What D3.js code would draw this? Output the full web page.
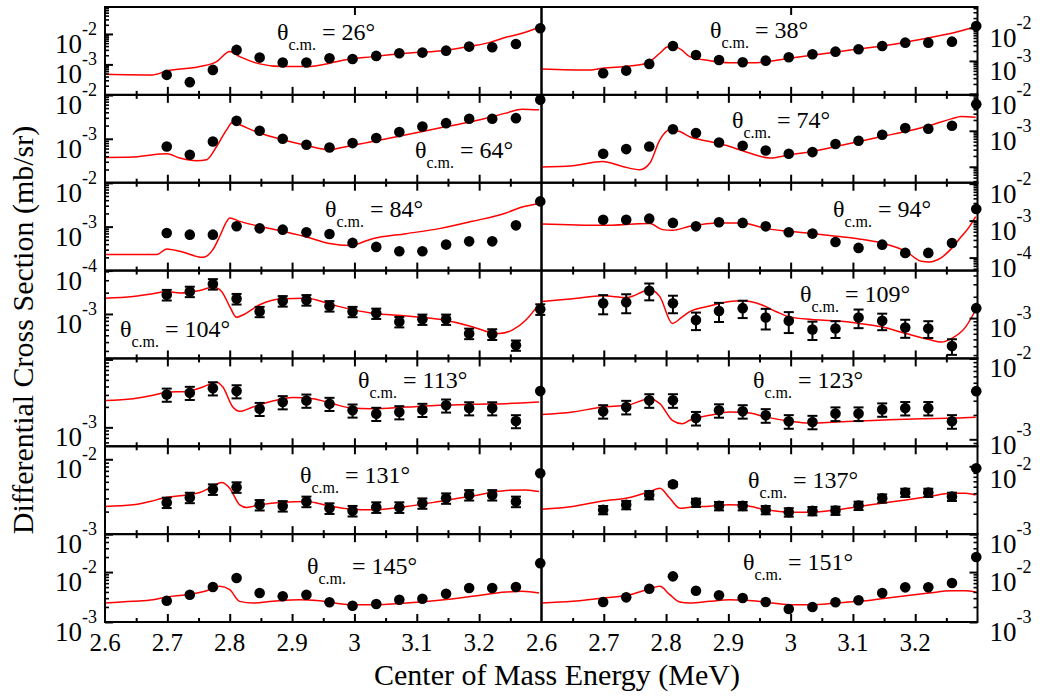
<!DOCTYPE html>
<html><head><meta charset="utf-8">
<script src="https://cdn.jsdelivr.net/npm/d3@7"></script>
<style>
body{margin:0;background:#fff}
svg{display:block}
text{font-family:"Liberation Serif","Times New Roman",serif;fill:#000}
</style>
</head><body><svg id="c" width="1042" height="698"></svg>
<script>
// ---------------- DATA ----------------
const energies = [2.699, 2.736, 2.773, 2.811, 2.848, 2.885, 2.923, 2.960, 2.997, 3.035, 3.072, 3.109, 3.147, 3.184, 3.221, 3.259, 3.298];
const xTickValues = [2.6, 2.7, 2.8, 2.9, 3.0, 3.1, 3.2];
const xTickLabels = ["2.6", "2.7", "2.8", "2.9", "3", "3.1", "3.2"];
const xMinorTicks = [2.65, 2.75, 2.85, 2.95, 3.05, 3.15, 3.25];
const anglesLeft = [26, 64, 84, 104, 113, 131, 145];
const anglesRight = [38, 74, 94, 109, 123, 137, 151];

// y-axis ranges per panel (mb/sr)
const yMinLeft  = [1e-4, 1e-4, 1e-4, 2.35e-4, 5.26e-4, 1e-3, 1e-3];
const yMaxLeft  = [7.67e-2, 1e-2, 1e-2, 4.11e-3, 1.035e-2, 1.49e-2, 5.75e-2];
const yMinRight = [9.33e-5, 3.60e-5, 4.46e-5, 2.69e-4, 8.20e-4, 1e-3, 1e-3];
const yMaxRight = [4.33e-2, 1e-2, 1.06e-2, 4.69e-3, 1e-2, 1.97e-2, 5.75e-2];
// decades labelled on each panel's y axis
const yLabelExpLeft  = [[-2, -3], [-2, -3], [-2, -3, -4], [-3], [-3], [-2, -3], [-2, -3]];
const yLabelExpRight = [[-2, -3], [-2, -3], [-2, -3, -4], [-3], [-2, -3], [-2, -3], [-2, -3]];

// measured cross sections (mb/sr), errors, and calculation (red curve)
const sigma26 = [4.53e-4, 2.61e-4, 6.61e-4, 2.99e-3, 1.67e-3, 1.15e-3, 1.15e-3, 1.60e-3, 1.51e-3, 1.90e-3, 2.33e-3, 2.44e-3, 2.83e-3, 3.84e-3, 3.66e-3, 4.70e-3, 1.54e-2];
const calcE26 = [2.600, 2.677, 2.699, 2.752, 2.779, 2.800, 2.816, 2.848, 2.885, 2.923, 2.960, 2.976, 3.029, 3.083, 3.136, 3.189, 3.216, 3.243, 3.269, 3.296];
const calc26  = [4.77e-4, 4.53e-4, 6.12e-4, 8.47e-4, 1.24e-3, 2.63e-3, 1.80e-3, 1.04e-3, 8.47e-4, 8.47e-4, 1.09e-3, 1.30e-3, 1.80e-3, 2.33e-3, 2.77e-3, 4.04e-3, 5.19e-3, 7.80e-3, 1.05e-2, 1.66e-2];

const sigma38 = [4.24e-4, 5.08e-4, 8.11e-4, 2.85e-3, 1.52e-3, 1.07e-3, 9.14e-4, 1.02e-3, 1.29e-3, 1.60e-3, 1.91e-3, 2.26e-3, 2.85e-3, 3.59e-3, 3.59e-3, 3.85e-3, 1.15e-2];
const calcE38 = [2.600, 2.678, 2.698, 2.742, 2.769, 2.790, 2.802, 2.814, 2.825, 2.838, 2.870, 2.902, 2.945, 2.998, 3.050, 3.105, 3.158, 3.210, 3.265, 3.297];
const calc38  = [5.73e-4, 5.33e-4, 6.01e-4, 7.05e-4, 8.51e-4, 1.71e-3, 2.66e-3, 2.75e-3, 2.15e-3, 1.35e-3, 1.02e-3, 8.87e-4, 8.87e-4, 1.21e-3, 1.63e-3, 2.26e-3, 3.05e-3, 4.55e-3, 7.41e-3, 1.09e-2];

const sigma64 = [6.68e-4, 4.33e-4, 8.69e-4, 2.56e-3, 1.52e-3, 1.00e-3, 7.31e-4, 6.34e-4, 7.98e-4, 1.04e-3, 1.42e-3, 1.90e-3, 2.27e-3, 2.85e-3, 2.85e-3, 2.95e-3, 7.69e-3];
const calcE64 = [2.600, 2.645, 2.688, 2.699, 2.720, 2.747, 2.763, 2.779, 2.795, 2.805, 2.816, 2.848, 2.885, 2.923, 2.960, 2.976, 3.029, 3.083, 3.136, 3.189, 3.243, 3.269, 3.296];
const calc64  = [3.76e-4, 3.84e-4, 4.49e-4, 4.56e-4, 3.64e-4, 3.16e-4, 3.33e-4, 6.68e-4, 1.60e-3, 2.40e-3, 2.08e-3, 1.35e-3, 9.49e-4, 7.05e-4, 5.62e-4, 6.15e-4, 8.69e-4, 1.23e-3, 1.75e-3, 2.47e-3, 3.84e-3, 4.73e-3, 4.56e-3];

const sigma74 = [2.30e-4, 3.10e-4, 3.66e-4, 1.11e-3, 8.63e-4, 4.73e-4, 3.83e-4, 2.84e-4, 2.30e-4, 2.56e-4, 4.28e-4, 5.27e-4, 7.74e-4, 1.19e-3, 1.14e-3, 1.38e-3, 5.52e-3];
const calcE74 = [2.600, 2.650, 2.698, 2.730, 2.758, 2.774, 2.790, 2.806, 2.822, 2.838, 2.870, 2.902, 2.934, 2.966, 2.998, 3.034, 3.073, 3.110, 3.146, 3.185, 3.222, 3.258, 3.274, 3.297];
const calc74  = [9.82e-5, 1.07e-4, 1.40e-4, 1.02e-4, 8.26e-5, 1.27e-4, 5.62e-4, 1.07e-3, 9.57e-4, 6.81e-4, 5.05e-4, 3.66e-4, 2.40e-4, 1.75e-4, 2.15e-4, 2.66e-4, 3.66e-4, 5.05e-4, 6.95e-4, 9.57e-4, 1.38e-3, 2.15e-3, 2.50e-3, 2.40e-3];

const sigma84 = [7.19e-4, 6.58e-4, 6.58e-4, 1.02e-3, 9.14e-4, 8.55e-4, 7.41e-4, 6.82e-4, 4.27e-4, 3.46e-4, 2.75e-4, 2.75e-4, 3.90e-4, 4.63e-4, 4.63e-4, 1.07e-3, 3.76e-3];
const calcE84 = [2.600, 2.683, 2.699, 2.720, 2.757, 2.773, 2.784, 2.795, 2.800, 2.816, 2.848, 2.885, 2.923, 2.960, 2.992, 3.029, 3.083, 3.136, 3.189, 3.243, 3.269, 3.296];
const calc84  = [2.31e-4, 2.31e-4, 3.11e-4, 2.75e-4, 2.00e-4, 3.00e-4, 6.03e-4, 1.30e-3, 1.58e-3, 1.32e-3, 1.02e-3, 7.82e-4, 5.83e-4, 4.11e-4, 3.70e-4, 5.33e-4, 6.93e-4, 9.01e-4, 1.32e-3, 2.05e-3, 2.80e-3, 3.33e-3];

const sigma94 = [1.06e-3, 1.06e-3, 1.13e-3, 8.67e-4, 7.01e-4, 9.00e-4, 8.67e-4, 7.01e-4, 4.83e-4, 4.46e-4, 2.65e-4, 1.83e-4, 2.24e-4, 1.34e-4, 1.34e-4, 2.49e-4, 2.07e-3];
const calcE94 = [2.600, 2.698, 2.774, 2.794, 2.810, 2.838, 2.886, 2.922, 2.961, 2.998, 3.034, 3.073, 3.110, 3.146, 3.185, 3.210, 3.222, 3.242, 3.258, 3.274, 3.286, 3.297];
const calc94  = [8.15e-4, 7.46e-4, 8.30e-4, 5.71e-4, 5.47e-4, 7.01e-4, 8.67e-4, 8.67e-4, 6.08e-4, 5.14e-4, 4.46e-4, 3.77e-4, 3.20e-4, 2.49e-4, 1.48e-4, 7.94e-5, 7.66e-5, 1.00e-4, 1.75e-4, 3.70e-4, 6.47e-4, 1.28e-3];

const sigma104 = [1.87e-3, 2.08e-3, 2.66e-3, 1.64e-3, 1.08e-3, 1.53e-3, 1.58e-3, 1.30e-3, 1.08e-3, 1.02e-3, 7.76e-4, 8.40e-4, 8.40e-4, 5.30e-4, 5.18e-4, 3.61e-4, 1.17e-3];
const err104   = [3.2e-4, 3.5e-4, 4.5e-4, 2.8e-4, 1.8e-4, 2.6e-4, 2.7e-4, 2.2e-4, 1.8e-4, 1.7e-4, 1.3e-4, 1.4e-4, 1.4e-4, 0.9e-4, 0.9e-4, 0.6e-4, 2.0e-4];
const calcE104 = [2.600, 2.645, 2.677, 2.699, 2.720, 2.752, 2.773, 2.787, 2.800, 2.811, 2.821, 2.848, 2.885, 2.923, 2.960, 2.976, 3.029, 3.083, 3.136, 3.189, 3.216, 3.232, 3.253, 3.275, 3.296];
const calc104  = [1.67e-3, 1.77e-3, 1.93e-3, 2.08e-3, 1.98e-3, 2.15e-3, 2.40e-3, 2.08e-3, 1.27e-3, 8.97e-4, 9.68e-4, 1.35e-3, 1.64e-3, 1.67e-3, 1.39e-3, 1.27e-3, 1.02e-3, 9.36e-4, 8.40e-4, 6.59e-4, 5.53e-4, 5.30e-4, 5.90e-4, 8.20e-4, 1.39e-3];

const sigma109 = [1.62e-3, 1.67e-3, 2.43e-3, 1.62e-3, 9.36e-4, 1.26e-3, 1.38e-3, 1.02e-3, 9.14e-4, 6.90e-4, 7.13e-4, 1.02e-3, 9.14e-4, 7.36e-4, 7.13e-4, 4.02e-4, 1.38e-3];
const err109   = [4.9e-4, 5.0e-4, 6.5e-4, 4.5e-4, 2.6e-4, 3.8e-4, 3.8e-4, 3.3e-4, 3.0e-4, 2.0e-4, 1.9e-4, 3.0e-4, 2.4e-4, 2.1e-4, 1.9e-4, 1.0e-4, 0];
const calcE109 = [2.600, 2.650, 2.698, 2.737, 2.774, 2.790, 2.810, 2.826, 2.838, 2.870, 2.902, 2.922, 2.954, 2.977, 2.998, 3.034, 3.073, 3.110, 3.146, 3.185, 3.222, 3.242, 3.258, 3.281, 3.297];
const calc109  = [1.71e-3, 1.87e-3, 2.06e-3, 1.95e-3, 2.51e-3, 2.01e-3, 8.40e-4, 1.04e-3, 1.23e-3, 1.48e-3, 1.71e-3, 1.75e-3, 1.53e-3, 1.23e-3, 1.04e-3, 9.57e-4, 9.14e-4, 8.40e-4, 7.52e-4, 6.04e-4, 4.97e-4, 4.58e-4, 5.13e-4, 7.52e-4, 1.30e-3];

const sigma113 = [3.05e-3, 3.24e-3, 3.78e-3, 3.42e-3, 1.88e-3, 2.36e-3, 2.49e-3, 2.23e-3, 1.78e-3, 1.59e-3, 1.68e-3, 1.82e-3, 2.11e-3, 1.92e-3, 1.92e-3, 1.24e-3, 3.42e-3];
const err113   = [6.7e-4, 7.1e-4, 8.3e-4, 7.5e-4, 4.1e-4, 5.2e-4, 5.5e-4, 4.9e-4, 3.9e-4, 3.5e-4, 3.7e-4, 4.0e-4, 4.6e-4, 4.2e-4, 4.2e-4, 2.7e-4, 0];
const calcE113 = [2.600, 2.645, 2.677, 2.699, 2.731, 2.757, 2.779, 2.789, 2.805, 2.816, 2.837, 2.869, 2.901, 2.933, 2.965, 2.992, 3.029, 3.083, 3.136, 3.189, 3.243, 3.296];
const calc113  = [2.49e-3, 2.64e-3, 2.96e-3, 3.30e-3, 3.38e-3, 3.92e-3, 4.63e-3, 3.92e-3, 1.99e-3, 1.72e-3, 1.99e-3, 2.44e-3, 2.74e-3, 2.64e-3, 2.23e-3, 1.95e-3, 1.88e-3, 1.99e-3, 2.11e-3, 2.18e-3, 2.23e-3, 2.36e-3];

const sigma123 = [2.22e-3, 2.51e-3, 3.03e-3, 3.03e-3, 1.83e-3, 2.28e-3, 2.22e-3, 1.98e-3, 1.67e-3, 1.64e-3, 2.08e-3, 2.08e-3, 2.34e-3, 2.43e-3, 2.43e-3, 1.67e-3, 3.94e-3];
const err123   = [4.2e-4, 4.8e-4, 5.8e-4, 5.8e-4, 3.5e-4, 4.3e-4, 4.2e-4, 3.8e-4, 3.2e-4, 3.1e-4, 4.0e-4, 4.0e-4, 4.4e-4, 4.6e-4, 4.6e-4, 3.2e-4, 0];
const calcE123 = [2.600, 2.650, 2.698, 2.737, 2.774, 2.790, 2.810, 2.826, 2.838, 2.870, 2.902, 2.934, 2.961, 2.998, 3.034, 3.073, 3.110, 3.158, 3.210, 3.265, 3.297];
const calc123  = [2.02e-3, 2.17e-3, 2.51e-3, 2.63e-3, 3.18e-3, 2.76e-3, 1.72e-3, 1.56e-3, 1.72e-3, 1.98e-3, 2.17e-3, 2.11e-3, 1.88e-3, 1.68e-3, 1.59e-3, 1.64e-3, 1.68e-3, 1.75e-3, 1.80e-3, 1.83e-3, 1.88e-3];

const sigma131 = [2.65e-3, 3.08e-3, 3.98e-3, 4.24e-3, 2.46e-3, 2.38e-3, 2.73e-3, 2.22e-3, 2.05e-3, 2.29e-3, 2.29e-3, 2.59e-3, 3.02e-3, 3.34e-3, 3.34e-3, 2.73e-3, 6.50e-3];
const err131   = [4.2e-4, 4.9e-4, 6.4e-4, 6.8e-4, 3.9e-4, 3.8e-4, 4.4e-4, 3.6e-4, 3.3e-4, 3.7e-4, 3.7e-4, 4.1e-4, 4.8e-4, 5.3e-4, 5.3e-4, 4.4e-4, 0];
const calcE131 = [2.600, 2.645, 2.672, 2.699, 2.731, 2.752, 2.773, 2.787, 2.800, 2.816, 2.827, 2.848, 2.885, 2.923, 2.960, 2.992, 3.029, 3.083, 3.136, 3.189, 3.243, 3.275, 3.296];
const calc131  = [2.34e-3, 2.46e-3, 2.73e-3, 3.11e-3, 3.34e-3, 3.60e-3, 4.33e-3, 4.89e-3, 4.10e-3, 2.46e-3, 2.27e-3, 2.46e-3, 2.67e-3, 2.73e-3, 2.38e-3, 2.17e-3, 2.11e-3, 2.34e-3, 2.73e-3, 3.24e-3, 3.83e-3, 3.90e-3, 3.71e-3];

const sigma137 = [2.28e-3, 2.70e-3, 3.78e-3, 5.43e-3, 2.92e-3, 2.61e-3, 2.61e-3, 2.28e-3, 2.11e-3, 2.20e-3, 2.23e-3, 2.64e-3, 3.38e-3, 4.10e-3, 4.10e-3, 3.58e-3, 9.35e-3];
const err137   = [3.2e-4, 3.8e-4, 5.3e-4, 4.0e-4, 4.1e-4, 3.7e-4, 3.7e-4, 3.2e-4, 3.0e-4, 3.1e-4, 3.1e-4, 3.7e-4, 4.7e-4, 5.7e-4, 5.7e-4, 5.0e-4, 0];
const calcE137 = [2.600, 2.650, 2.698, 2.742, 2.774, 2.790, 2.806, 2.822, 2.838, 2.870, 2.902, 2.929, 2.961, 2.998, 3.034, 3.073, 3.110, 3.146, 3.185, 3.222, 3.258, 3.281, 3.297];
const calc137  = [2.33e-3, 2.55e-3, 3.09e-3, 3.47e-3, 4.25e-3, 4.74e-3, 3.38e-3, 2.41e-3, 2.49e-3, 2.58e-3, 2.70e-3, 2.61e-3, 2.28e-3, 2.11e-3, 2.11e-3, 2.28e-3, 2.55e-3, 2.86e-3, 3.19e-3, 3.58e-3, 4.01e-3, 4.01e-3, 3.78e-3];

const sigma145 = [2.67e-3, 3.52e-3, 5.01e-3, 7.59e-3, 3.80e-3, 3.27e-3, 3.52e-3, 2.48e-3, 2.12e-3, 2.29e-3, 2.79e-3, 2.92e-3, 3.68e-3, 4.79e-3, 4.79e-3, 5.01e-3, 1.51e-2];
const calcE145 = [2.600, 2.645, 2.677, 2.699, 2.731, 2.763, 2.784, 2.800, 2.816, 2.837, 2.869, 2.912, 2.944, 2.992, 3.029, 3.083, 3.136, 3.189, 3.243, 3.269, 3.296];
const calc145  = [2.40e-3, 2.59e-3, 2.79e-3, 3.16e-3, 3.52e-3, 4.23e-3, 5.18e-3, 4.43e-3, 2.59e-3, 2.40e-3, 2.59e-3, 2.79e-3, 2.67e-3, 2.22e-3, 2.22e-3, 2.40e-3, 2.72e-3, 3.27e-3, 3.98e-3, 4.11e-3, 3.80e-3];

const sigma151 = [2.51e-3, 3.12e-3, 4.63e-3, 8.20e-3, 4.23e-3, 3.42e-3, 3.02e-3, 2.51e-3, 1.82e-3, 2.00e-3, 2.48e-3, 2.72e-3, 3.80e-3, 4.94e-3, 4.94e-3, 6.03e-3, 2.0e-2];
const calcE151 = [2.600, 2.650, 2.698, 2.742, 2.774, 2.790, 2.806, 2.822, 2.838, 2.870, 2.902, 2.929, 2.961, 2.998, 3.034, 3.073, 3.110, 3.146, 3.185, 3.222, 3.258, 3.281, 3.297];
const calc151  = [2.40e-3, 2.59e-3, 3.02e-3, 3.52e-3, 4.63e-3, 5.18e-3, 3.52e-3, 2.51e-3, 2.40e-3, 2.59e-3, 2.79e-3, 2.72e-3, 2.48e-3, 2.22e-3, 2.22e-3, 2.40e-3, 2.59e-3, 2.92e-3, 3.36e-3, 3.80e-3, 4.23e-3, 4.23e-3, 3.98e-3];

// ---------------- LAYOUT ----------------
const W = 1042, H = 698;
const colRange = [[105, 541.5], [541.5, 977.5]];
const plotTop = 7, plotBottom = 622, nRows = 7;
const rowH = (plotBottom - plotTop) / nRows;
const labelPosLeft  = [[277, 40], [415, 158], [325, 217], [120, 337], [358, 388], [300, 483], [307, 574]];
const labelPosRight = [[710, 38], [732, 128], [833, 217], [800, 302], [753, 388], [748, 488], [743, 570]];
// small vertical nudges (px) of the y tick labels, to keep neighbouring rows' labels apart
const yLabelNudgeLeft  = [[0, 0], [0, 0], [0, 0, 0], [0], [0], [0, 0], [0, 0]];
const yLabelNudgeRight = [[0, 0], [0, 0], [0, 0, 0], [0], [0, -4], [3, 0], [0, 0]];

const leftSets = [
  [sigma26, null, calcE26, calc26], [sigma64, null, calcE64, calc64], [sigma84, null, calcE84, calc84],
  [sigma104, err104, calcE104, calc104], [sigma113, err113, calcE113, calc113],
  [sigma131, err131, calcE131, calc131], [sigma145, null, calcE145, calc145]];
const rightSets = [
  [sigma38, null, calcE38, calc38], [sigma74, null, calcE74, calc74], [sigma94, null, calcE94, calc94],
  [sigma109, err109, calcE109, calc109], [sigma123, err123, calcE123, calc123],
  [sigma137, err137, calcE137, calc137], [sigma151, null, calcE151, calc151]];

const panels = [];
for (let r = 0; r < nRows; r++) {
  panels.push({row: r, col: 0, set: leftSets[r], lo: yMinLeft[r], hi: yMaxLeft[r], exps: yLabelExpLeft[r], nudge: yLabelNudgeLeft[r], angle: anglesLeft[r], lp: labelPosLeft[r]});
  panels.push({row: r, col: 1, set: rightSets[r], lo: yMinRight[r], hi: yMaxRight[r], exps: yLabelExpRight[r], nudge: yLabelNudgeRight[r], angle: anglesRight[r], lp: labelPosRight[r]});
}

const svg = d3.select('#c');
svg.append('rect').attr('width', W).attr('height', H).attr('fill', '#fff');

function styleAxis(g, w) {
  g.select('.domain').remove();
  g.selectAll('text').remove();
  g.selectAll('line').attr('stroke', '#000').attr('stroke-width', w);
}

panels.forEach(p => {
  const [x0, x1] = colRange[p.col];
  const yTop = plotTop + p.row * rowH, yBot = yTop + rowH;
  const x = d3.scaleLinear().domain([2.6, 3.3]).range([x0, x1]);
  const y = d3.scaleLog().domain([p.lo, p.hi]).range([yBot, yTop]);
  const g = svg.append('g');
  const [sig, err, cE, cV] = p.set;

  // calculation curve
  g.append('path')
    .datum(d3.zip(cE, cV))
    .attr('fill', 'none').attr('stroke', '#ff0000').attr('stroke-width', 1.5)
    .attr('d', d3.line().x(d => x(d[0])).y(d => y(d[1])).curve(d3.curveMonotoneX));

  // frame
  g.append('rect').attr('x', x0).attr('y', yTop).attr('width', x1 - x0).attr('height', yBot - yTop)
    .attr('fill', 'none').attr('stroke', '#000').attr('stroke-width', 2);

  // x ticks (inward)
  g.append('g').attr('transform', `translate(0,${yBot})`)
    .call(d3.axisBottom(x).tickValues(xTickValues.slice(1)).tickSize(-8).tickFormat(''))
    .call(s => styleAxis(s, 2));
  g.append('g').attr('transform', `translate(0,${yBot})`)
    .call(d3.axisBottom(x).tickValues(xMinorTicks).tickSize(-4).tickFormat(''))
    .call(s => styleAxis(s, 2));
  if (p.row > 0) {
    g.append('g').attr('transform', `translate(0,${yTop})`)
      .call(d3.axisTop(x).tickValues(xTickValues.slice(1)).tickSize(-8).tickFormat(''))
      .call(s => styleAxis(s, 2));
    g.append('g').attr('transform', `translate(0,${yTop})`)
      .call(d3.axisTop(x).tickValues(xMinorTicks).tickSize(-4).tickFormat(''))
      .call(s => styleAxis(s, 2));
  } else {
    g.append('g').attr('transform', `translate(0,${yTop})`)
      .call(d3.axisTop(x).tickValues([3.0]).tickSize(-8).tickFormat(''))
      .call(s => styleAxis(s, 2));
  }

  // y ticks (log, inward)
  const all = y.ticks();
  const isMajor = v => Math.abs(Math.log10(v) - Math.round(Math.log10(v))) < 1e-6;
  const majors = all.filter(isMajor), minors = all.filter(v => !isMajor(v));
  const axisFn = p.col === 0 ? d3.axisLeft : d3.axisRight;
  const ax = p.col === 0 ? x0 : x1;
  g.append('g').attr('transform', `translate(${ax},0)`)
    .call(axisFn(y).tickValues(majors).tickSize(-8).tickFormat(''))
    .call(s => styleAxis(s, 2));
  g.append('g').attr('transform', `translate(${ax},0)`)
    .call(axisFn(y).tickValues(minors).tickSize(-4).tickFormat(''))
    .call(s => styleAxis(s, 1.6));

  // y tick labels 10^n
  p.exps.forEach((e, k) => {
    const ty = y(Math.pow(10, e)) + p.nudge[k];
    const t = svg.append('text')
      .attr('x', p.col === 0 ? x0 - 8 : x1 + 12)
      .attr('y', ty + 19)
      .attr('text-anchor', p.col === 0 ? 'end' : 'start')
      .attr('font-size', 27);
    t.append('tspan').text('10');
    t.append('tspan').attr('dy', -18).attr('font-size', 18).text(String(e));
  });

  // error bars
  if (err) {
    sig.forEach((v, i) => {
      if (!err[i]) return;
      const cx = x(energies[i]);
      const ya = y(v + err[i]), yb = y(Math.max(v - err[i], p.lo));
      g.append('line').attr('x1', cx).attr('x2', cx).attr('y1', ya).attr('y2', yb).attr('stroke', '#000').attr('stroke-width', 2);
      [ya, yb].forEach(yy => g.append('line').attr('x1', cx - 5).attr('x2', cx + 5).attr('y1', yy).attr('y2', yy).attr('stroke', '#000').attr('stroke-width', 2));
    });
  }
  // data points
  g.selectAll('circle.pt').data(sig).enter().append('circle')
    .attr('cx', (v, i) => x(energies[i])).attr('cy', v => y(v)).attr('r', 5.3).attr('fill', '#000');

  // angle label
  const lab = svg.append('text').attr('x', p.lp[0]).attr('y', p.lp[1]).attr('font-size', 24);
  lab.append('tspan').text('θ');
  lab.append('tspan').attr('dy', 10).attr('font-size', 16).text('c.m.');
  lab.append('tspan').attr('dy', -10).text(' = ' + p.angle + '°');

  // x tick labels on bottom row
  if (p.row === nRows - 1) {
    xTickValues.forEach((v, i) => {
      svg.append('text').attr('x', x(v)).attr('y', 651).attr('text-anchor', 'middle').attr('font-size', 25).text(xTickLabels[i]);
    });
  }
});

// axis titles
svg.append('text').attr('x', 557).attr('y', 685).attr('text-anchor', 'middle').attr('font-size', 30)
  .text('Center of Mass Energy (MeV)');
svg.append('text').attr('transform', 'translate(33,330) rotate(-90)').attr('text-anchor', 'middle').attr('font-size', 30)
  .text('Differential Cross Section (mb/sr)');
</script>
</body></html>
